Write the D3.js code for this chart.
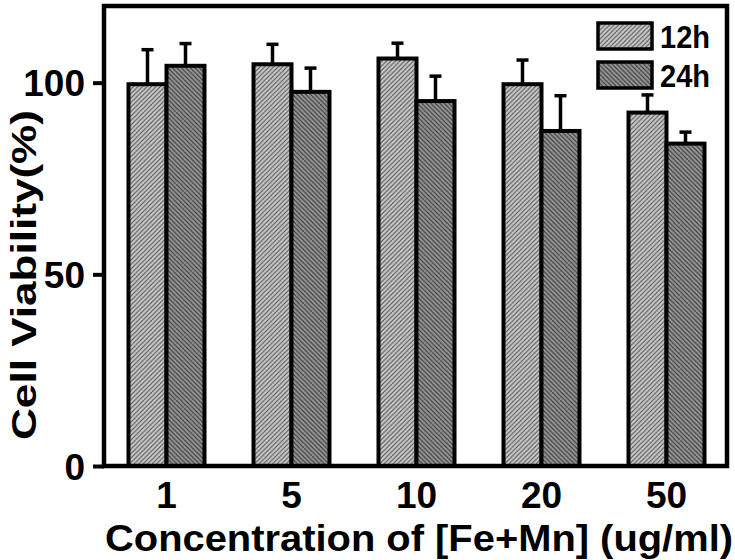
<!DOCTYPE html>
<html>
<head>
<meta charset="utf-8">
<script src="https://cdn.jsdelivr.net/npm/d3@7"></script>
<style>
  body { margin: 0; background: #fff; }
  text { font-family: "Liberation Sans", Arial, sans-serif; font-weight: bold; }
</style>
</head>
<body>
<div id="chart"></div>
<script>
// data
var concentrations = ["1", "5", "10", "20", "50"];
var seriesNames = ["12h", "24h"];
var viability12h = [99.6, 104.8, 106.3, 99.6, 92.2];
var viability24h = [104.4, 97.6, 95.2, 87.4, 84.1];
var error12h = [9.0, 5.2, 4.0, 6.3, 4.6];
var error24h = [5.8, 6.2, 6.5, 9.2, 3.0];
var yTicks = [0, 50, 100];

var svgWidth = 735;
var svgHeight = 560;

var margin = { top: 6, right: 6, bottom: 96, left: 104 };
var width = svgWidth - margin.left - margin.right;
var height = svgHeight - margin.top - margin.bottom;

var svg = d3.select("#chart")
    .append("svg")
    .attr("width", svgWidth)
    .attr("height", svgHeight);

// hatch patterns
var defs = svg.append("defs");
var hatch = [
    { id: "hatch12", bg: "#c9c9c9", line: "#4a4a4a", d: "M0,4.5 L4.5,0 M-1,1 L1,-1 M3.5,5.5 L5.5,3.5" },
    { id: "hatch24", bg: "#959595", line: "#2e2e2e", d: "M0,0 L4.5,4.5 M-1,3.5 L1,5.5 M3.5,-1 L5.5,1" }
];
hatch.forEach(function (h) {
    var p = defs.append("pattern")
        .attr("id", h.id)
        .attr("patternUnits", "userSpaceOnUse")
        .attr("width", 4.5)
        .attr("height", 4.5);
    p.append("rect").attr("width", 4.5).attr("height", 4.5).attr("fill", h.bg);
    p.append("path").attr("d", h.d).attr("stroke", h.line).attr("stroke-width", 1);
});

var chartGroup = svg.append("g")
    .attr("transform", "translate(" + margin.left + "," + margin.top + ")");

var data = concentrations.map(function (c, i) {
    return {
        conc: c,
        values: [
            { key: "12h", v: viability12h[i], e: error12h[i] },
            { key: "24h", v: viability24h[i], e: error24h[i] }
        ]
    };
});

//(scales)
var xScale = d3.scaleBand().domain(concentrations).range([0, width])
    .paddingInner(0.392).paddingOuter(0.196);
var xSub = d3.scaleBand().domain(seriesNames).range([0, xScale.bandwidth()]);
var yScale = d3.scaleLinear().domain([0, 120]).range([height + 2, 0]);
var fills = { "12h": "url(#hatch12)", "24h": "url(#hatch24)" };

//bars
var groups = chartGroup.selectAll(".grp")
    .data(data)
    .enter()
    .append("g")
    .attr("transform", d => `translate(${xScale(d.conc)},0)`);

// error bars (upper only)
groups.selectAll(".err")
    .data(d => d.values)
    .enter()
    .append("g")
    .each(function (d) {
        var g = d3.select(this);
        var cx = xSub(d.key) + xSub.bandwidth() / 2;
        g.append("line")
            .attr("x1", cx).attr("x2", cx)
            .attr("y1", yScale(d.v)).attr("y2", yScale(d.v + d.e))
            .attr("stroke", "#000").attr("stroke-width", 3.5);
        g.append("line")
            .attr("x1", cx - 6).attr("x2", cx + 6)
            .attr("y1", yScale(d.v + d.e)).attr("y2", yScale(d.v + d.e))
            .attr("stroke", "#000").attr("stroke-width", 3.5);
    });

groups.selectAll("rect")
    .data(d => d.values)
    .enter()
    .append("rect")
    .attr("x", d => xSub(d.key))
    .attr("width", xSub.bandwidth())
    .attr("y", d => yScale(d.v))
    .attr("height", d => yScale(0) - yScale(d.v))
    .attr("fill", d => fills[d.key])
    .attr("stroke", "#000")
    .attr("stroke-width", 4);

//(axis)
var leftAxis = d3.axisLeft(yScale).tickValues(yTicks).tickSize(11).tickPadding(8);
var bottomAxis = d3.axisBottom(xScale).tickSize(0).tickPadding(16);

var yAx = chartGroup.append("g").call(leftAxis);
var xAx = chartGroup.append("g")
    .attr("transform", `translate(0, ${yScale(0)})`)
    .call(bottomAxis);

[yAx, xAx].forEach(function (ax) {
    ax.select(".domain").remove();
    ax.selectAll("line").attr("stroke", "#000").attr("stroke-width", 4);
    ax.selectAll("text").attr("fill", "#000").style("font-size", "37px");
});
yAx.selectAll("text").attr("dy", "0.36em");
xAx.selectAll("text").attr("dy", "0.71em");

// frame
chartGroup.append("rect")
    .attr("x", 0)
    .attr("y", 0)
    .attr("width", width - 2)
    .attr("height", yScale(0))
    .attr("fill", "none")
    .attr("stroke", "#000")
    .attr("stroke-width", 4.5);

// legend
var legend = chartGroup.append("g")
    .attr("transform", "translate(494, 17)");
seriesNames.forEach(function (s, i) {
    legend.append("rect")
        .attr("x", 0)
        .attr("y", i * 39)
        .attr("width", 54)
        .attr("height", 26)
        .attr("fill", fills[s])
        .attr("stroke", "#000")
        .attr("stroke-width", 3.5);
    legend.append("text")
        .attr("x", 62)
        .attr("y", i * 39 + 25)
        .attr("textLength", 50)
        .attr("lengthAdjust", "spacingAndGlyphs")
        .style("font-size", "32px")
        .text(s);
});

// axis titles
svg.append("text")
    .attr("x", 105)
    .attr("y", 551)
    .attr("textLength", 628)
    .attr("lengthAdjust", "spacingAndGlyphs")
    .style("font-size", "36px")
    .text("Concentration of [Fe+Mn] (ug/ml)");

svg.append("text")
    .attr("transform", "translate(36, 275) rotate(-90)")
    .attr("text-anchor", "middle")
    .attr("textLength", 330)
    .attr("lengthAdjust", "spacingAndGlyphs")
    .style("font-size", "35px")
    .text("Cell Viability(%)");
</script>
</body>
</html>
